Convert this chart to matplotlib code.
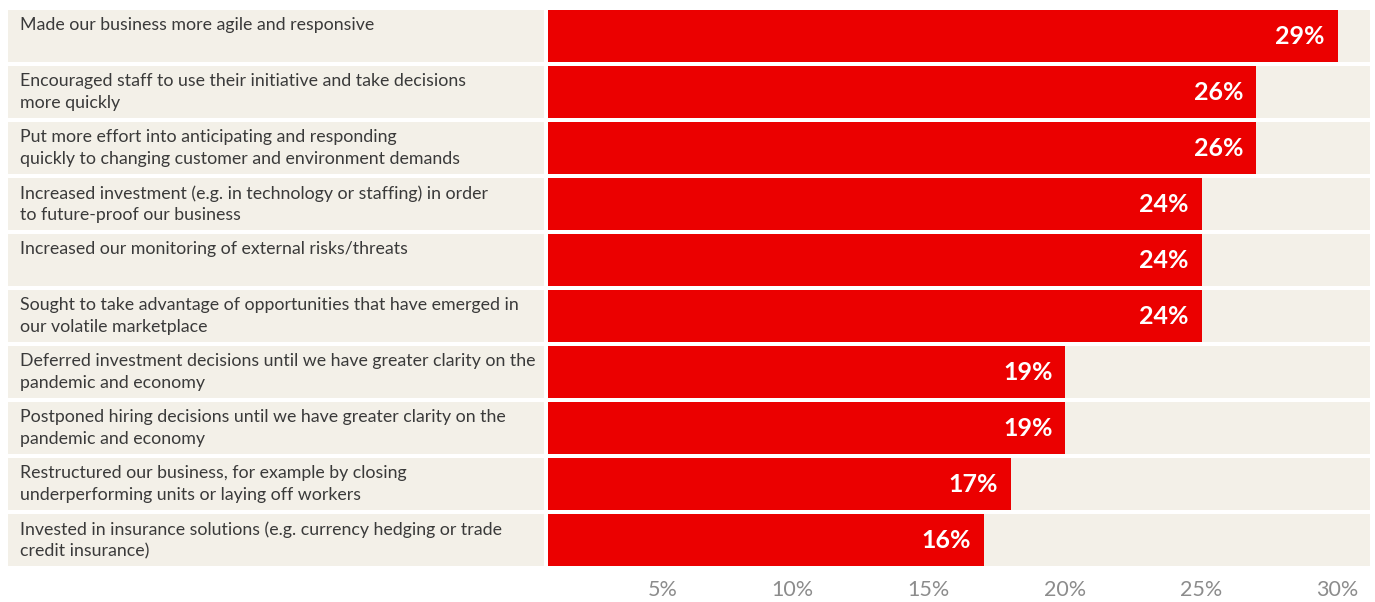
import matplotlib.pyplot as plt
from matplotlib.transforms import ScaledTranslation

# share of businesses taking each action (%)
actions = [
    "Made our business more agile and responsive",
    "Encouraged staff to use their initiative and take decisions\nmore quickly",
    "Put more effort into anticipating and responding\nquickly to changing customer and environment demands",
    "Increased investment (e.g. in technology or staffing) in order\nto future-proof our business",
    "Increased our monitoring of external risks/threats",
    "Sought to take advantage of opportunities that have emerged in\nour volatile marketplace",
    "Deferred investment decisions until we have greater clarity on the\npandemic and economy",
    "Postponed hiring decisions until we have greater clarity on the\npandemic and economy",
    "Restructured our business, for example by closing\nunderperforming units or laying off workers",
    "Invested in insurance solutions (e.g. currency hedging or trade\ncredit insurance)",
]
shares = [29, 26, 26, 24, 24, 24, 19, 19, 17, 16]
tick_vals = [5, 10, 15, 20, 25, 30]
tick_text = ["5%", "10%", "15%", "20%", "25%", "30%"]

RED = "#EB0000"
BEIGE = "#F3F0E8"
W, H = 1375, 602

plt.rcParams["font.family"] = ["Lato", "DejaVu Sans"]
fig = plt.figure(figsize=(W / 100, H / 100), dpi=100)

top, bottom = 8, 568
ax_lab = fig.add_axes([8 / W, 1 - bottom / H, (544 - 8) / W, (bottom - top) / H])
ax = fig.add_axes([548 / W, 1 - bottom / H, (1370 - 548) / W, (bottom - top) / H])

n = len(actions)
rows = list(range(n))
xmax = (1370 - 549) / 27.2

# label panel
ax_lab.barh(rows, [1] * n, height=0.93, left=0, color=BEIGE)
ax_lab.set_xlim(0, 1)
ax_lab.set_ylim(n - 0.5, -0.5)
for i, txt in enumerate(actions):
    ax_lab.text(12 / 536, i - 0.34, txt, ha="left", va="top", fontsize=12.8,
                color="#3a3a3a", linespacing=1.45)
ax_lab.axis("off")

# bars
ax.barh(rows, [xmax] * n, height=0.93, color=BEIGE)
ax.barh(rows, shares, height=0.93, color=RED)
ax.set_xlim(0, xmax)
ax.set_ylim(n - 0.5, -0.5)
for i, v in enumerate(shares):
    ax.text(v, i, f"{v}%", ha="right", va="center", fontsize=18, fontweight="bold",
            color="white", transform=ax.transData + ScaledTranslation(-13 / 100, 0, fig.dpi_scale_trans))

for sp in ax.spines.values():
    sp.set_visible(False)
ax.set_yticks([])
ax.set_xticks([])
off = ScaledTranslation(-7 / 100, 0, fig.dpi_scale_trans)
for v, t in zip(tick_vals, tick_text):
    ax.text(v, -22 / (bottom - top), t, ha="right", va="center", fontsize=15.5, color="#8c8c8c",
            transform=ax.get_xaxis_transform() + off)

fig.savefig("out.png", dpi=100)
